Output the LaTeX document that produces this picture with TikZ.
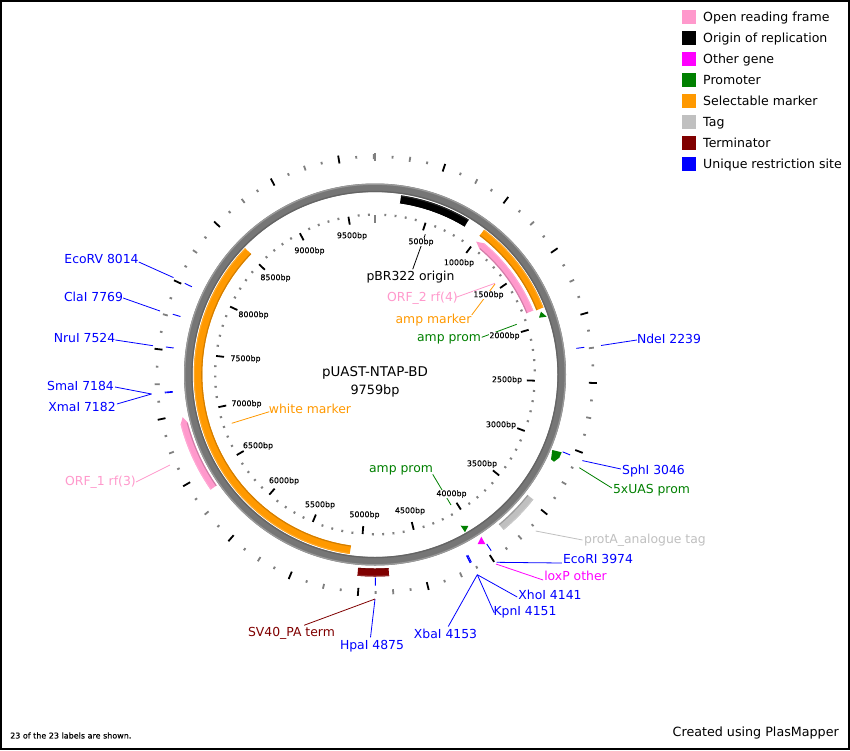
\documentclass[tikz,border=0pt]{standalone}
\usepackage{fontspec}
\setmainfont{DejaVu Sans}
\newfontfamily\bpfont[FakeBold=0.25]{DejaVu Sans}
\definecolor{cpink}{HTML}{FF99CC}
\definecolor{corange}{HTML}{FF9900}
\definecolor{cgreen}{HTML}{008000}
\definecolor{cgray}{HTML}{C0C0C0}
\definecolor{cred}{HTML}{800000}
\definecolor{cmag}{HTML}{FF00FF}
\definecolor{cblue}{HTML}{0000FF}
\definecolor{ctick}{HTML}{808080}
\newcommand{\edgearcs}[5]{% colour, radius, width, from, to : darker inner edge, lighter outer edge
  \draw[#1!82!black,line width=1.1pt] plot[domain=#4:#5,samples=40] ({\x-90}:#2-#3/2+0.55);
  \draw[#1!85!white,line width=1.1pt] plot[domain=#4:#5,samples=40] ({\x-90}:#2+#3/2-0.55);}
\newcommand{\bandarc}[5]{% colour, radius, width, from, to
  \draw[#1,line width=#3pt] plot[domain=#4:#5,samples=40] ({\x-90}:#2);
  \edgearcs{#1}{#2}{#3}{#4}{#5}}
\newcommand{\headarc}[6]{% colour, radius, width, from, to, tip angle
  \fill[#1] plot[domain=#4:#5,samples=30] ({\x-90}:#2+#3/2) -- ({#6-90}:#2) -- plot[domain=#5:#4,samples=30] ({\x-90}:#2-#3/2) -- cycle;
  \edgearcs{#1}{#2}{#3}{#4}{#5}}
\newcommand{\mapdash}[3]{% angle, from radius, to radius
  \draw[sitemark] ({#1-90}:#2) -- ({#1-90}:#3);}
\tikzset{
  lab/.style={font=\fontsize{12.4}{14}\selectfont,inner sep=0pt,text=#1},
  bplab/.style={font=\bpfont\fontsize{7.9}{9}\selectfont,inner sep=0pt,fill=white,text=black},
  leader/.style={draw=#1,line width=0.8pt},
  sitemark/.style={draw=cblue,line width=0.9pt},
}
\begin{document}
\begin{tikzpicture}[x=1pt,y=-1pt]
\useasboundingbox (0,0) rectangle (850,750);
\fill[white] (0,0) rectangle (850,750);
\draw[black,line width=2pt] (1,1) rectangle (849,749);

\begin{scope}[shift={(375,374.5)}]
  % backbone ring
  \draw[line width=8.6pt,draw=ctick!92!black] (0,0) circle[radius=186.7];
  \draw[line width=1.3pt,draw=ctick!80!white] (0,0) circle[radius=190.3];
  \draw[line width=1.2pt,draw=ctick!78!black] (0,0) circle[radius=183.1];
  % features
  \bandarc{black}{177}{8}{8.3}{31.2}
  \bandarc{corange}{177.5}{7.6}{37}{68.3}
  \bandarc{corange}{177}{8.5}{188}{314.2}
  \headarc{cpink}{167}{7.4}{68}{39.8}{37.3}
  \headarc{cpink}{197}{7.4}{235}{255.6}{257.5}
  \bandarc{cred}{198}{8}{176}{185}
  \bandarc{cgray}{198}{7.5}{128.3}{140.4}
  % outer ticks
  \foreach \p in {0,125,...,9750}{
    \pgfmathsetmacro\a{\p/9759*360-90}
    \pgfmathtruncatemacro\m{mod(\p,500)}
    \ifnum\p=0
      \draw[ctick,line width=1.8pt] (\a:213.5) -- (\a:222);
    \else\ifnum\m=0
      \draw[black,line width=1.8pt] (\a:214) -- (\a:222);
    \else\ifnum\m=250
      \draw[ctick,line width=1.8pt] (\a:215.5) -- (\a:220.5);
    \else
      \draw[ctick,line width=1.9pt] (\a:216.7) -- (\a:219.3);
    \fi\fi\fi
  }
  % inner ticks
  \foreach \p in {0,100,...,9700}{
    \pgfmathsetmacro\a{\p/9759*360-90}
    \pgfmathtruncatemacro\m{mod(\p,500)}
    \ifnum\p=0
      \draw[ctick,line width=1.5pt] (\a:152) -- (\a:160);
    \else\ifnum\m=0
      \draw[black,line width=1.8pt] (\a:152) -- (\a:160);
    \else
      \draw[ctick,line width=1.9pt] (\a:158.7) -- (\a:161);
    \fi\fi
  }
  % restriction site marks
  \mapdash{82.6}{203}{211}
  \mapdash{112.4}{203}{211}
  \mapdash{146.6}{203}{211}
  \mapdash{152.8}{203}{211}
  \mapdash{153.1}{203}{211}
  \mapdash{153.2}{203}{211}
  \mapdash{179.9}{203}{211}
  \mapdash{265.2}{203}{211}
  \mapdash{265}{203}{211}
  \mapdash{277.5}{203}{211}
  \mapdash{286.6}{203}{211}
  \mapdash{295.6}{203}{211}
\end{scope}
% small markers
\fill[cgreen] (539,317.7) -- (546.7,316.7) -- (541,311.7) -- cycle;
\fill[cgreen] (460.7,525.7) -- (468.3,526) -- (465,532.3) -- cycle;
\fill[cmag] (477.7,544) -- (485.3,544) -- (481.3,536.7) -- cycle;
\fill[cgreen] (552.3,450) -- (561.7,452.3) -- (559.3,457.7) -- (554,461.7) -- (551,459.3) -- cycle;

% connector ends
\coordinate (pA) at (412.7,269.3);
\coordinate (pB) at (425.3,234.3);
\coordinate (o2) at (495,283.3);
\coordinate (am) at (495,284);
\coordinate (ap1) at (516.7,324.3);
\coordinate (ap2) at (451,505);
\coordinate (wm) at (231.7,423.3);
\coordinate (o1) at (170,465);
\coordinate (ev) at (173.5,277.6);
\coordinate (cl) at (160,311);
\coordinate (nr) at (153,345.7);
\coordinate (sx) at (151.5,394);
\coordinate (nd) at (601,345.5);
\coordinate (sp) at (582.4,460.6);
\coordinate (ua) at (579.3,467.7);
\coordinate (pr) at (535.7,531);
\coordinate (er) at (496.7,562.3);
\coordinate (lx) at (496,564);
\coordinate (xk) at (477.3,574.7);
\coordinate (hp) at (375,599);

% connectors underneath the bp labels
\draw[leader=black] (pA) -- (pB);
\draw[leader=cpink] (456,297.3) coordinate (o2s) -- (o2);
\draw[leader=corange] (471.7,315) coordinate (ams) -- (am);
\draw[leader=cgreen] (481.7,337.3) coordinate (ap1s) -- (ap1);
\draw[leader=cgreen] (432.7,474.3) coordinate (ap2s) -- (ap2);
\draw[leader=corange] (269.3,411.7) coordinate (wms) -- (wm);

% bp labels
\foreach \n/\x/\y/\t in {b1/421/242/500bp,b2/459/263/1000bp,b3/488.5/295/1500bp,b4/504.5/336/2000bp,
  b5/507/380/2500bp,b6/501/425/3000bp,b7/482/464/3500bp,b8/451.5/494/4000bp,b9/410/511/4500bp,
  b10/364.5/515/5000bp,b11/320/505/5500bp,b12/284/481/6000bp,b13/258/446/6500bp,b14/246.5/404/7000bp,
  b15/245.5/359/7500bp,b16/253.5/315/8000bp,b17/275.5/278/8500bp,b18/309.5/251/9000bp,b19/352/236/9500bp}
  \node[bplab] (\n) at (\x,\y) {\t};

% centre title
\node[lab=black,font=\fontsize{13.4}{15}\selectfont] (title) at (375,373) {pUAST-NTAP-BD};
\node[lab=black,font=\fontsize{12.8}{15}\selectfont] (size) at (375,391) {9759bp};

% feature and site labels
\node[lab=black,anchor=center] (lpbr) at (410.5,277.5) {pBR322 origin};
\node[lab=cpink] (lo2) at (422.5,298.5) {ORF\_2 rf(4)};
\node[lab=corange] (lam) at (433.5,320) {amp marker};
\node[lab=cgreen] (lap1) at (449,339) {amp prom};
\node[lab=cgreen] (lap2) at (401,470.5) {amp prom};
\node[lab=corange] (lwm) at (310,408.5) {white marker};
\node[lab=cpink] (lo1) at (100.5,482) {ORF\_1 rf(3)};
\node[lab=cblue] (lev) at (101.5,258.5) {EcoRV 8014};
\node[lab=cblue] (lcl) at (93.5,297) {ClaI 7769};
\node[lab=cblue] (lnr) at (84.5,337.5) {NruI 7524};
\node[lab=cblue] (lsm) at (80.5,385.5) {SmaI 7184};
\node[lab=cblue] (lxm) at (82,406.5) {XmaI 7182};
\node[lab=cblue] (lnd) at (669,339) {NdeI 2239};
\node[lab=cblue] (lsp) at (653.5,471.5) {SphI 3046};
\node[lab=cgreen] (lua) at (651.5,490) {5xUAS prom};
\node[lab=cgray] (lpr) at (645,540) {protA\_analogue tag};
\node[lab=cblue] (ler) at (598,558.5) {EcoRI 3974};
\node[lab=cmag] (llx) at (575.5,575.5) {loxP other};
\node[lab=cblue] (lxh) at (550,594.5) {XhoI 4141};
\node[lab=cblue] (lkp) at (525,612) {KpnI 4151};
\node[lab=cblue] (lxb) at (445.5,633.5) {XbaI 4153};
\node[lab=cblue] (lhp) at (372,646) {HpaI 4875};
\node[lab=cred] (lsv) at (291.5,633.5) {SV40\_PA term};

% leaders from labels
\draw[leader=cpink] (lo1.east) -- (o1);
\draw[leader=cblue] (lev.east) ++(0,3.5) -- (ev);
\draw[leader=cblue] (lcl.east) ++(0,1) -- (cl);
\draw[leader=cblue] (lnr.east) ++(0,2.5) -- (nr);
\draw[leader=cblue] (lsm.east) ++(1,1.5) -- (sx);
\draw[leader=cblue] (lxm.east) ++(1,-2.5) -- (sx);
\draw[leader=cblue] (lnd.west) ++(0,1) -- (nd);
\draw[leader=cblue] (lsp.west) ++(-1,-2.5) -- (sp);
\draw[leader=cgreen] (lua.west) ++(-1,-2) -- (ua);
\draw[leader=cgray] (lpr.west) ++(-1.5,0) -- (pr);
\draw[leader=cblue] (ler.west) ++(-1,4.5) -- (er);
\draw[leader=cmag] (llx.west) ++(-1,4.5) -- (lx);
\draw[leader=cblue] (lxh.west) ++(-1,2.5) -- (xk);
\draw[leader=cblue] (lkp.west) ++(1,1) -- (xk);
\draw[leader=cblue] (lxb.north east) ++(-29,-2) -- (xk);
\draw[leader=cblue] (lhp.north) ++(-1.5,-2.5) -- (hp);
\draw[leader=cred] (lsv.north east) ++(-31,-2) -- (hp);

% legend
\foreach \n/\y/\c/\t in {1/17/cpink/Open reading frame,2/38/black/Origin of replication,3/59/cmag/Other gene,
  4/80/cgreen/Promoter,5/101/corange/Selectable marker,6/122/cgray/Tag,7/143/cred/Terminator,8/164/cblue/Unique restriction site}{
  \fill[\c] (682.3,\y-7) rectangle (696.3,\y+7);
  \node[lab=black,anchor=base west,font=\fontsize{12.55}{14}\selectfont] (leg\n) at (703,\y+4.4) {\t};
}

\node[font=\fontsize{12.7}{14}\selectfont,inner sep=0pt,anchor=east] (credit) at (839,732.5) {Created using PlasMapper};
\node[font=\bpfont\fontsize{8}{9}\selectfont,inner sep=0pt,anchor=west] (count) at (10,735.5) {23 of the 23 labels are shown.};
\end{tikzpicture}
\end{document}
